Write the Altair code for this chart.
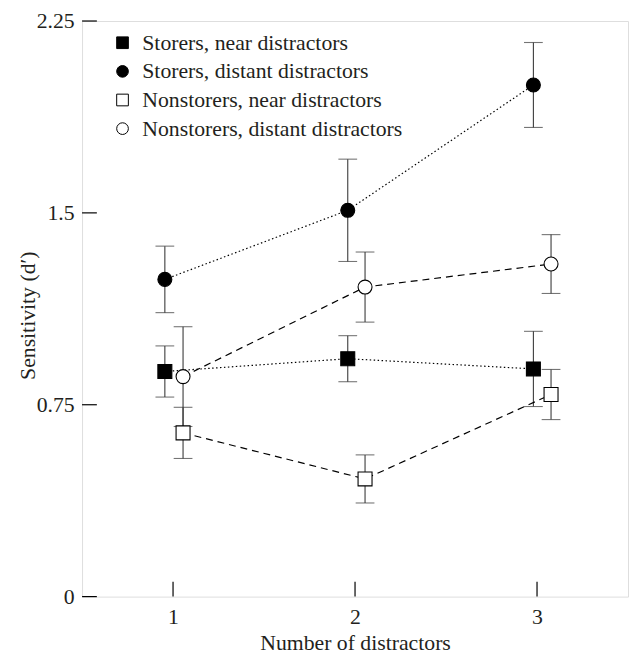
import altair as alt
import pandas as pd

# ---- data ----
series_names = [
    "Storers, near distractors",
    "Storers, distant distractors",
    "Nonstorers, near distractors",
    "Nonstorers, distant distractors",
]
groups = ["Storers", "Storers", "Nonstorers", "Nonstorers"]
storers_x = [0.955, 1.96, 2.98]        # plotted slightly left of the tick
nonstorers_x = [1.055, 2.055, 3.077]   # plotted slightly right of the tick

storers_near = [0.88, 0.93, 0.89]
storers_near_err = [0.10, 0.09, 0.147]
storers_distant = [1.24, 1.51, 2.00]
storers_distant_err = [0.13, 0.20, 0.166]
nonstorers_near = [0.64, 0.46, 0.79]
nonstorers_near_err = [0.10, 0.094, 0.098]
nonstorers_distant = [0.86, 1.21, 1.30]
nonstorers_distant_err = [0.195, 0.137, 0.115]

x_ticks = [1, 2, 3]
y_ticks = [0, 0.75, 1.5, 2.25]

values = [storers_near, storers_distant, nonstorers_near, nonstorers_distant]
errors = [storers_near_err, storers_distant_err, nonstorers_near_err, nonstorers_distant_err]
xs = [storers_x, storers_x, nonstorers_x, nonstorers_x]

rows = []
for name, grp, xv, yv, ev in zip(series_names, groups, xs, values, errors):
    for x, y, e in zip(xv, yv, ev):
        rows.append({"series": name, "group": grp, "x": x, "y": y, "lo": y - e, "hi": y + e})
df = pd.DataFrame(rows)

FONT = "Liberation Serif"
TXT = "#231f20"
FS = 22
xscale = alt.Scale(domain=[0.5, 3.5], nice=False, zero=False)
yscale = alt.Scale(domain=[0, 2.25], nice=False)

xaxis = alt.Axis(values=x_ticks, labelExpr="toString(datum.value)", tickSize=0, grid=False, domain=False,
                 labelFontSize=FS, labelPadding=10, labelFont=FONT, labelColor=TXT,
                 title="Number of distractors", titleFontSize=FS, titleColor=TXT,
                 titleFontWeight="normal", titleFont=FONT, titlePadding=6)
yaxis = alt.Axis(values=y_ticks, labelExpr="toString(datum.value)", tickSize=0, grid=False, domain=False,
                 labelFontSize=FS, labelPadding=8, labelFont=FONT, labelColor=TXT,
                 title="Sensitivity (d′)", titleFontSize=FS, titleFontWeight="normal",
                 titleFont=FONT, titleColor=TXT, titleAngle=-90, titleX=-55, titleY=298,
                 titleBaseline="middle", titleAlign="center")


def XE(field):
    return alt.X(field, type="quantitative", scale=xscale, axis=xaxis)


def YE(field):
    return alt.Y(field, type="quantitative", scale=yscale, axis=yaxis)


base = alt.Chart(df)

err_col = "#3a3a3a"
rules = base.mark_rule(color=err_col, strokeWidth=1.1).encode(x=XE("x"), y=YE("lo"), y2="hi:Q")
caps_lo = base.mark_tick(orient="horizontal", size=19, thickness=1.1, color=err_col).encode(
    x=XE("x"), y=YE("lo"))
caps_hi = base.mark_tick(orient="horizontal", size=19, thickness=1.1, color=err_col).encode(
    x=XE("x"), y=YE("hi"))

lines = base.mark_line(color="black", strokeWidth=1.2).encode(
    x=XE("x"), y=YE("y"),
    detail="series:N",
    strokeDash=alt.StrokeDash("group:N",
                              scale=alt.Scale(domain=["Storers", "Nonstorers"], range=[[1.5, 2.5], [7, 5]]),
                              legend=None))

legend = alt.Legend(orient="none", legendX=30, legendY=11, title=None,
                    labelFont=FONT, labelFontSize=FS, labelColor=TXT, labelLimit=0,
                    symbolSize=140, symbolStrokeWidth=1,
                    rowPadding=7, labelOffset=9)

points = base.mark_point(filled=True, strokeWidth=1.1, size=200, opacity=1).encode(
    x=XE("x"), y=YE("y"),
    shape=alt.Shape("series:N", scale=alt.Scale(domain=series_names,
                                                  range=["square", "circle", "square", "circle"]),
                    legend=legend),
    fill=alt.Fill("series:N", scale=alt.Scale(domain=series_names,
                                                range=["black", "black", "white", "white"]),
                  legend=legend),
    stroke=alt.Stroke("series:N", scale=alt.Scale(domain=series_names,
                                                    range=["black", "black", "black", "black"]),
                      legend=legend))

ytick_df = pd.DataFrame({"t": y_ticks})
xtick_df = pd.DataFrame({"t": x_ticks})
yticks = alt.Chart(ytick_df).mark_rule(strokeWidth=1.2, color="black", x2Offset=15).encode(
    x=alt.datum(0.5, scale=xscale), x2=alt.datum(0.5), y=YE("t"))
xticks = alt.Chart(xtick_df).mark_rule(strokeWidth=1.2, color="black", y2Offset=-15).encode(
    x=XE("t"), y=alt.datum(0, scale=yscale), y2=alt.datum(0))

chart = alt.layer(rules, caps_lo, caps_hi, lines, points, yticks, xticks).properties(
    width=553, height=583,
    autosize=alt.AutoSizeParams(type="none"),
    padding={"left": 75, "top": 9, "right": 2, "bottom": 58},
).configure_view(stroke="black", strokeWidth=1.2).configure(font=FONT)

chart.save("out.html", embed_options={"renderer": "svg", "actions": False})
